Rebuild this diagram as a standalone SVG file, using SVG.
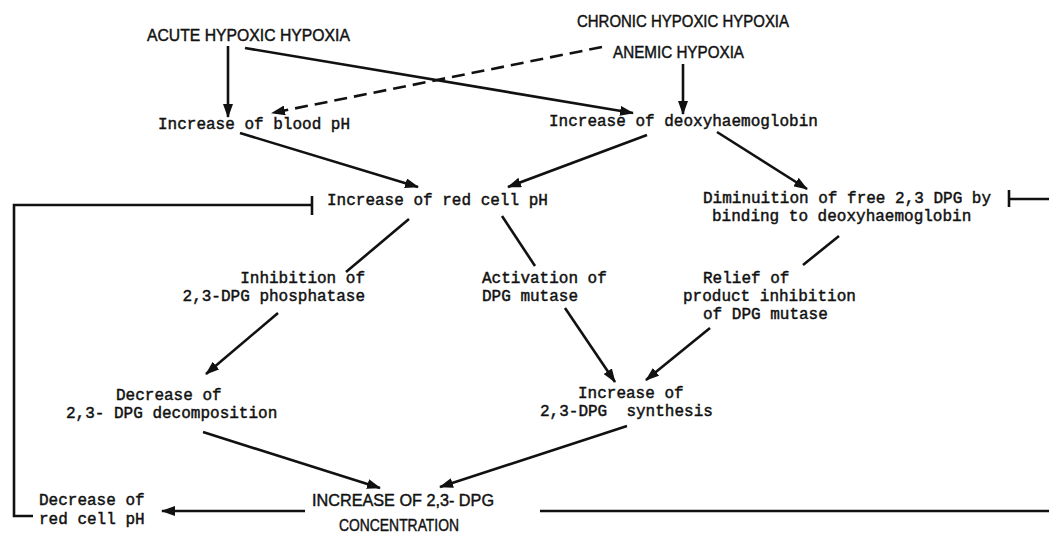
<svg xmlns="http://www.w3.org/2000/svg" width="1049" height="537" viewBox="0 0 1049 537">
<style>
.m{font-family:"Liberation Mono","DejaVu Sans Mono",monospace;font-size:16px;fill:#111;stroke:#111;stroke-width:0.45}
.c{font-family:"Liberation Sans","DejaVu Sans",sans-serif;font-size:17px;fill:#111;stroke:#111;stroke-width:0.45}
.e{text-anchor:end}
.ln{fill:none;stroke:#111;stroke-width:2.6}
.ar{marker-end:url(#ah)}
.d{stroke-dasharray:13 7}
</style>
<defs>
<marker id="ah" markerWidth="14" markerHeight="10" refX="13" refY="5" orient="auto" markerUnits="userSpaceOnUse">
<path d="M0,0 L14,5 L0,10 Z" fill="#111"/>
</marker>
</defs>
<rect width="1049" height="537" fill="#fff"/>
<g id="acute"><text class="c" x="147" y="41" textLength="203" lengthAdjust="spacingAndGlyphs">ACUTE HYPOXIC HYPOXIA</text></g>
<g id="chronic"><text class="c" x="577" y="27" textLength="212" lengthAdjust="spacingAndGlyphs">CHRONIC HYPOXIC HYPOXIA</text></g>
<g id="anemic"><text class="c" x="613" y="58" textLength="131" lengthAdjust="spacingAndGlyphs">ANEMIC HYPOXIA</text></g>
<g id="bloodph"><text class="m" x="158" y="129">Increase of blood pH</text></g>
<g id="deoxy"><text class="m" x="549" y="126">Increase of deoxyhaemoglobin</text></g>
<g id="redcell"><text class="m" x="327" y="205">Increase of red cell pH</text></g>
<g id="diminuition"><text class="m" x="703" y="203">Diminuition of free 2,3 DPG by</text><text class="m" x="712" y="221">binding to deoxyhaemoglobin</text></g>
<g id="inhibition"><text class="m e" x="365" y="283">Inhibition of</text><text class="m e" x="365" y="301">2,3-DPG phosphatase</text></g>
<g id="activation"><text class="m" x="482" y="283">Activation of</text><text class="m" x="482" y="301">DPG mutase</text></g>
<g id="relief"><text class="m" x="703" y="283">Relief of</text><text class="m" x="683" y="301">product inhibition</text><text class="m" x="703" y="319">of DPG mutase</text></g>
<g id="synthesis"><text class="m" x="578" y="398">Increase of</text><text class="m" x="540" y="416" xml:space="preserve">2,3-DPG  synthesis</text></g>
<g id="decomposition"><text class="m" x="116" y="400">Decrease of</text><text class="m" x="66" y="418">2,3- DPG decomposition</text></g>
<g id="concentration"><text class="c" x="312" y="506" textLength="182" lengthAdjust="spacingAndGlyphs">INCREASE OF 2,3- DPG</text><text class="c" x="339" y="531" textLength="120" lengthAdjust="spacingAndGlyphs">CONCENTRATION</text></g>
<g id="decreaseph"><text class="m" x="39" y="505">Decrease of</text><text class="m" x="39" y="524">red cell pH</text></g>
<g id="connectors">
<line class="ln ar" x1="228" y1="46" x2="228" y2="117"/>
<line class="ln ar" x1="245" y1="48" x2="633" y2="113"/>
<line class="ln ar d" x1="602" y1="47" x2="272" y2="113"/>
<line class="ln ar" x1="683" y1="64" x2="683" y2="114"/>
<line class="ln ar" x1="240" y1="133" x2="418" y2="187"/>
<line class="ln ar" x1="647" y1="135" x2="508" y2="187"/>
<line class="ln ar" x1="717" y1="132" x2="807" y2="189"/>
<line class="ln" x1="409" y1="219" x2="346" y2="272"/>
<line class="ln" x1="502" y1="216" x2="535" y2="266"/>
<line class="ln" x1="839" y1="236" x2="803" y2="265"/>
<line class="ln ar" x1="278" y1="313" x2="206" y2="374"/>
<line class="ln ar" x1="565" y1="308" x2="615" y2="382"/>
<line class="ln ar" x1="710" y1="328" x2="646" y2="380"/>
<line class="ln ar" x1="203" y1="432" x2="380" y2="488"/>
<line class="ln ar" x1="627" y1="426" x2="440" y2="487"/>
<line class="ln ar" x1="305" y1="511" x2="162" y2="511"/>
<path class="ln" d="M33,516 H14 V205 H312"/>
<line class="ln" x1="312" y1="196" x2="312" y2="215"/>
<path class="ln" d="M540,511 H1060 V199 H1009"/>
<line class="ln" x1="1009" y1="190" x2="1009" y2="207"/>
</g>
</svg>
